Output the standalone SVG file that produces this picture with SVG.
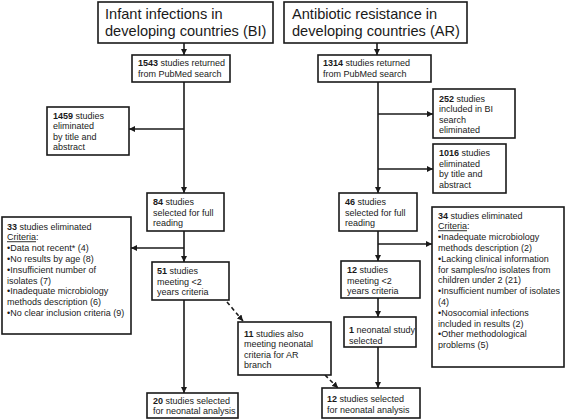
<svg xmlns="http://www.w3.org/2000/svg" width="567" height="420" viewBox="0 0 567 420">
<defs>
<marker id="ah" viewBox="0 0 10 10" refX="10" refY="5" markerWidth="6" markerHeight="6" markerUnits="userSpaceOnUse" orient="auto">
<path d="M0,0 L10,5 L0,10 z" fill="#1a1a1a"/>
</marker>
<style>
.box{fill:#fff;stroke:#1a1a1a;stroke-width:1.6}
.t{font-family:"Liberation Sans",Arial,sans-serif;font-size:9px;fill:#1a1a1a}
.tt{font-family:"Liberation Sans",Arial,sans-serif;font-size:14.6px;fill:#1a1a1a}
.b{font-weight:bold}
.c{fill:none;stroke:#1a1a1a;stroke-width:1.6}
.d{stroke-dasharray:4,3}
</style>
</defs>
<rect width="567" height="420" fill="#fff"/>
<g id="connectors">
<line class="c" x1="184" y1="43" x2="184" y2="55" marker-end="url(#ah)"/>
<line class="c" x1="377" y1="43" x2="377" y2="55" marker-end="url(#ah)"/>
<line class="c" x1="184" y1="82" x2="184" y2="193" marker-end="url(#ah)"/>
<line class="c" x1="184" y1="129" x2="129" y2="129" marker-end="url(#ah)"/>
<line class="c" x1="184" y1="231" x2="184" y2="262" marker-end="url(#ah)"/>
<line class="c" x1="184" y1="248" x2="131" y2="248" marker-end="url(#ah)"/>
<line class="c" x1="184" y1="300" x2="184" y2="393" marker-end="url(#ah)"/>
<line class="c" x1="378" y1="82" x2="378" y2="193" marker-end="url(#ah)"/>
<line class="c" x1="378" y1="114" x2="433" y2="114" marker-end="url(#ah)"/>
<line class="c" x1="378" y1="169" x2="433" y2="169" marker-end="url(#ah)"/>
<line class="c" x1="378" y1="231" x2="378" y2="261" marker-end="url(#ah)"/>
<line class="c" x1="378" y1="244" x2="432" y2="244" marker-end="url(#ah)"/>
<line class="c" x1="378" y1="298" x2="378" y2="317" marker-end="url(#ah)"/>
<line class="c" x1="378" y1="347" x2="378" y2="388" marker-end="url(#ah)"/>
<line class="c d" x1="227" y1="302" x2="243" y2="321" marker-end="url(#ah)"/>
<line class="c d" x1="325" y1="375" x2="338" y2="388" marker-end="url(#ah)"/>
</g>
<g id="bi-title">
<rect class="box" x="98" y="2" width="175" height="41"/>
<text class="tt" x="105" y="19">Infant infections in</text>
<text class="tt" x="105" y="36">developing countries (BI)</text>
</g>
<g id="ar-title">
<rect class="box" x="284" y="2" width="183" height="41"/>
<text class="tt" x="292" y="19">Antibiotic resistance in</text>
<text class="tt" x="292" y="36">developing countries (AR)</text>
</g>
<g id="bi-1543">
<rect class="box" x="132" y="55" width="98" height="27"/>
<text class="t" x="138" y="66"><tspan class="b">1543</tspan> studies returned</text>
<text class="t" x="138" y="77">from PubMed  search</text>
</g>
<g id="ar-1314">
<rect class="box" x="318" y="55" width="113" height="27"/>
<text class="t" x="323" y="66"><tspan class="b">1314</tspan> studies returned</text>
<text class="t" x="323" y="77">from PubMed  search</text>
</g>
<g id="bi-1459">
<rect class="box" x="47" y="107" width="82" height="48"/>
<text class="t" x="53" y="118.5"><tspan class="b">1459</tspan> studies</text>
<text class="t" x="53" y="129">eliminated</text>
<text class="t" x="53" y="139.5">by title and</text>
<text class="t" x="53" y="150">abstract</text>
</g>
<g id="ar-252">
<rect class="box" x="433" y="89" width="82" height="49"/>
<text class="t" x="439" y="101.5"><tspan class="b">252</tspan> studies</text>
<text class="t" x="439" y="112">included in BI</text>
<text class="t" x="439" y="122.5">search</text>
<text class="t" x="439" y="133">eliminated</text>
</g>
<g id="ar-1016">
<rect class="box" x="433" y="144" width="73" height="49"/>
<text class="t" x="439" y="156"><tspan class="b">1016</tspan> studies</text>
<text class="t" x="439" y="166.5">eliminated</text>
<text class="t" x="439" y="177">by title and</text>
<text class="t" x="439" y="187.5">abstract</text>
</g>
<g id="bi-84">
<rect class="box" x="147" y="193" width="77" height="38"/>
<text class="t" x="153" y="205"><tspan class="b">84</tspan> studies</text>
<text class="t" x="153" y="215.5">selected for full</text>
<text class="t" x="153" y="226">reading</text>
</g>
<g id="ar-46">
<rect class="box" x="339" y="193" width="78" height="38"/>
<text class="t" x="345" y="205"><tspan class="b">46</tspan> studies</text>
<text class="t" x="345" y="215.5">selected for full</text>
<text class="t" x="345" y="226">reading</text>
</g>
<g id="bi-33">
<rect class="box" x="2" y="217" width="129" height="117"/>
<text class="t" x="7" y="229.5"><tspan class="b">33</tspan> studies eliminated</text>
<text class="t" x="7" y="240.3"><tspan text-decoration="underline">Criteria</tspan>:</text>
<text class="t" x="7" y="251.1">•Data not recent* (4)</text>
<text class="t" x="7" y="261.9">•No results by age (8)</text>
<text class="t" x="7" y="272.7">•Insufficient  number of</text>
<text class="t" x="7" y="283.5">isolates (7)</text>
<text class="t" x="7" y="294.3">•Inadequate  microbiology</text>
<text class="t" x="7" y="305.1">methods description (6)</text>
<text class="t" x="7" y="315.9">•No clear inclusion criteria (9)</text>
</g>
<g id="ar-34">
<rect class="box" x="432" y="207" width="132" height="160"/>
<text class="t" x="438" y="218.5"><tspan class="b">34</tspan> studies eliminated</text>
<text class="t" x="438" y="229.3"><tspan text-decoration="underline">Criteria</tspan>:</text>
<text class="t" x="438" y="240.1">•Inadequate  microbiology</text>
<text class="t" x="438" y="250.9">methods description (2)</text>
<text class="t" x="438" y="261.7">•Lacking clinical information</text>
<text class="t" x="438" y="272.5">for samples/no isolates from</text>
<text class="t" x="438" y="283.3">children under 2 (21)</text>
<text class="t" x="438" y="294.1">•Insufficient number of isolates</text>
<text class="t" x="438" y="304.9">(4)</text>
<text class="t" x="438" y="315.7">•Nosocomial infections</text>
<text class="t" x="438" y="326.5">included in results (2)</text>
<text class="t" x="438" y="337.3">•Other methodological</text>
<text class="t" x="438" y="348.1">problems (5)</text>
</g>
<g id="bi-51">
<rect class="box" x="152" y="262" width="77" height="38"/>
<text class="t" x="157" y="274"><tspan class="b">51</tspan> studies</text>
<text class="t" x="157" y="284.5">meeting &lt;2</text>
<text class="t" x="157" y="295">years criteria</text>
</g>
<g id="ar-12m">
<rect class="box" x="341" y="261" width="79" height="37"/>
<text class="t" x="347" y="273"><tspan class="b">12</tspan> studies</text>
<text class="t" x="347" y="283.5">meeting &lt;2</text>
<text class="t" x="347" y="294">years criteria</text>
</g>
<g id="ar-1">
<rect class="box" x="344" y="317" width="72" height="30"/>
<text class="t" x="349" y="333"><tspan class="b">1</tspan> neonatal study</text>
<text class="t" x="349" y="343.5">selected</text>
</g>
<g id="bi-11">
<rect class="box" x="238" y="322" width="93" height="53"/>
<text class="t" x="244" y="336.5"><tspan class="b">11</tspan> studies also</text>
<text class="t" x="244" y="347">meeting neonatal</text>
<text class="t" x="244" y="357.5">criteria for AR</text>
<text class="t" x="244" y="368">branch</text>
</g>
<g id="bi-20">
<rect class="box" x="147" y="393" width="91" height="25"/>
<text class="t" x="153" y="403.5"><tspan class="b">20</tspan> studies selected</text>
<text class="t" x="153" y="413.5">for neonatal analysis</text>
</g>
<g id="ar-12f">
<rect class="box" x="322" y="388" width="98" height="30"/>
<text class="t" x="327" y="402"><tspan class="b">12</tspan> studies selected</text>
<text class="t" x="327" y="412.5">for neonatal analysis</text>
</g>
</svg>
